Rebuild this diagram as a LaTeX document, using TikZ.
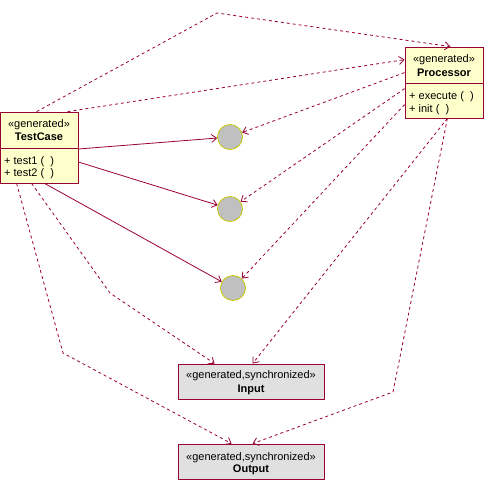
\documentclass[tikz,border=0pt]{standalone}
\usepackage{fontspec}
\setmainfont{Liberation Sans}
\usetikzlibrary{arrows.meta}
\definecolor{umlred}{HTML}{990033}
\definecolor{umlyellow}{HTML}{FFFFCC}
\definecolor{umlgray}{HTML}{E0E0E0}
\definecolor{portgray}{HTML}{C0C0C0}
\definecolor{portrim}{HTML}{C8C800}
\begin{document}
\begin{tikzpicture}[x=1pt, y=-1pt, >={Straight Barb[length=5pt,width=8pt]},
    every node/.style={font=\fontsize{11}{13}\selectfont, inner sep=0pt},
    classbox/.style={rectangle, draw=umlred, fill=umlyellow, line width=0.8pt},
    databox/.style={classbox, fill=umlgray, minimum width=146pt, minimum height=35pt},
    cname/.style={font=\fontsize{11}{13}\selectfont\bfseries, anchor=base},
    stereo/.style={anchor=base},
    oper/.style={anchor=base west},
    port/.style={circle, draw=portrim, fill=portgray, line width=0.8pt, minimum size=25pt},
    assoc/.style={->, umlred, line width=0.8pt},
    dep/.style={->, umlred, line width=0.8pt, dash pattern=on 3pt off 3pt}]
  \useasboundingbox (0,0) rectangle (484,480);

  \node[classbox, minimum width=78pt, minimum height=71pt] (tc) at (39,147.5) {};
  \draw[umlred, line width=0.8pt] (tc.west |- 0,148) -- (tc.east |- 0,148);
  \node[stereo] (tcst) at (39,127.5) {«generated»};
  \node[cname] (tcname) at (39,140.5) {TestCase};
  \node[oper] (tcop1) at (4,164) {+ test1 (~~)};
  \node[oper] (tcop2) at (4,176.5) {+ test2 (~~)};

  \node[classbox, minimum width=78pt, minimum height=71pt] (pr) at (444,82.5) {};
  \draw[umlred, line width=0.8pt] (pr.west |- 0,83) -- (pr.east |- 0,83);
  \node[stereo] (prst) at (444,62.5) {«generated»};
  \node[cname] (prname) at (444,76) {Processor};
  \node[oper] (prop1) at (409,99.5) {+ execute (~~)};
  \node[oper] (prop2) at (409,112) {+ init (~~)};

  \node[databox] (in) at (251,381.5) {};
  \node[stereo] (inst) at (251,378) {«generated,synchronized»};
  \node[cname] (inname) at (251,392.5) {Input};

  \node[databox] (out) at (251,461.5) {};
  \node[stereo] (outst) at (251,460) {«generated,synchronized»};
  \node[cname] (outname) at (251,472.5) {Output};

  \node[port] (c1) at (230,137) {};
  \node[port] (c2) at (230,209) {};
  \node[port] (c3) at (233,288) {};

  \draw[assoc] (tc.east |- 0,149) -- (c1);
  \draw[assoc] (tc.east |- 0,162) -- (c2);
  \draw[assoc] ([xshift=45pt]tc.south west) -- (c3);

  \draw[dep] ([xshift=37pt]tc.north west) -- (217,13) -- ([xshift=-33pt]pr.north east);
  \draw[dep] ([xshift=68pt]tc.north west) -- ([yshift=-13pt]pr.north west);
  \draw[dep] ([yshift=-26pt]pr.north west) -- (c1);
  \draw[dep] ([yshift=-42pt]pr.north west) -- (c2);
  \draw[dep] ([yshift=-58pt]pr.north west) -- (c3);
  \draw[dep] ([xshift=-36pt]pr.south east) -- ([xshift=75pt]in.north west);
  \draw[dep] ([xshift=-36pt]pr.south east) -- (393,392) -- ([xshift=75pt]out.north west);
  \draw[dep] ([xshift=32pt]tc.south west) -- (110,293) -- ([xshift=37pt]in.north west);
  \draw[dep] ([xshift=17pt]tc.south west) -- (63,353) -- ([xshift=54pt]out.north west);
\end{tikzpicture}
\end{document}
